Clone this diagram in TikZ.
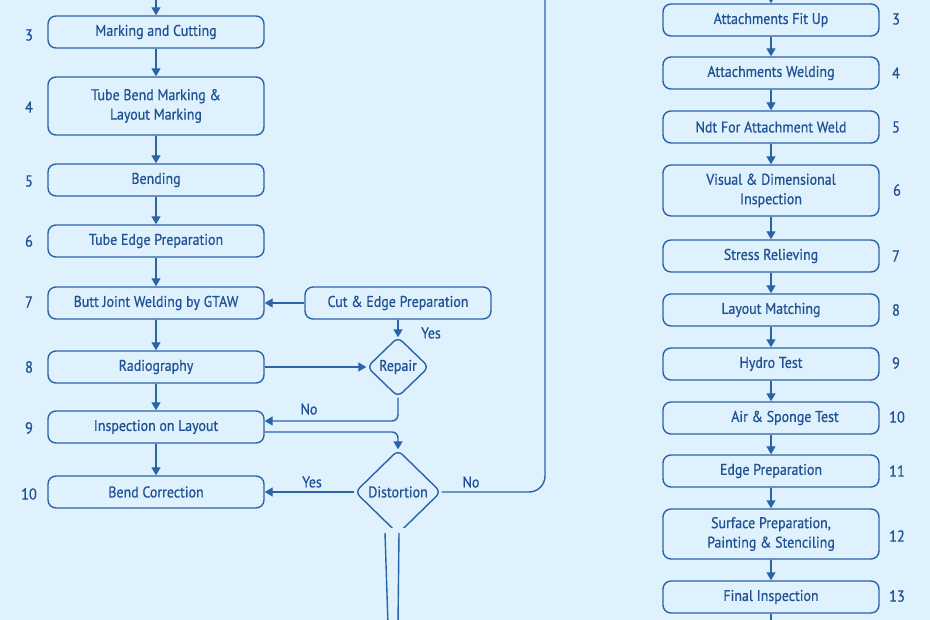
\documentclass[tikz,border=0pt]{standalone}
\usepackage{fontspec}
\setmainfont[FakeStretch=0.9,FakeBold=0.6]{PT Sans}
\usetikzlibrary{arrows.meta,shapes.geometric}
\definecolor{bgc}{HTML}{DFF1FC}
\definecolor{lnc}{HTML}{2B63A7}
\definecolor{txc}{HTML}{1F5294}
\begin{document}
\begin{tikzpicture}[x=1pt,y=-1pt,
  box/.style={draw=lnc,line width=1.4pt,rounded corners=8pt,minimum width=216pt,minimum height=32pt,inner sep=0pt,text=txc,font=\fontsize{15.5}{19.5}\selectfont,align=center},
  dia/.style={diamond,draw=lnc,line width=1.4pt,rounded corners=6pt,inner sep=0pt,text=txc,font=\fontsize{15.5}{19}\selectfont},
  num/.style={text=txc,font=\fontsize{16}{18}\selectfont},
  lbl/.style={text=txc,font=\fontsize{15.5}{18}\selectfont},
  arr/.style={draw=lnc,line width=1.4pt,-{Triangle[length=8pt,width=9pt]}},
  ln/.style={draw=lnc,line width=1.4pt}]
\fill[bgc] (0,0) rectangle (930,620);
\useasboundingbox (0,0) rectangle (930,620);
\clip (0,0) rectangle (930,620);
% left column
\node[box] (l3) at (156,32) {Marking and Cutting};
\node[box,minimum height=58pt] (l4) at (156,106) {Tube Bend Marking \&\\Layout Marking};
\node[box] (l5) at (156,180) {Bending};
\node[box] (l6) at (156,241) {Tube Edge Preparation};
\node[box] (l7) at (156,303) {Butt Joint Welding by GTAW};
\node[box] (l8) at (156,367) {Radiography};
\node[box] (l9) at (156,427) {Inspection on Layout};
\node[box] (l10) at (156,492) {Bend Correction};
\node[box,minimum width=186pt] (cut) at (398,303) {Cut \& Edge Preparation};
\node[dia,minimum width=62pt,minimum height=60pt] (rep) at (398,367) {Repair};
\node[dia,minimum width=86pt,minimum height=84pt] (dis) at (398,492) {Distortion};
\node[num] (n3) at (29,35) {3};
\node[num] (n4) at (29,107) {4};
\node[num] (n5) at (29,181) {5};
\node[num] (n6) at (29,241) {6};
\node[num] (n7) at (29,302) {7};
\node[num] (n8) at (29,367) {8};
\node[num] (n9) at (29,428) {9};
\node[num] (n10) at (29,494) {10};
% left connectors
\coordinate (ltop) at (156,-10);
\draw[arr] (ltop) -- (l3);
\draw[arr] (l3) -- (l4);
\draw[arr] (l4) -- (l5);
\draw[arr] (l5) -- (l6);
\draw[arr] (l6) -- (l7);
\draw[arr] (l7) -- (l8);
\draw[arr] (l8) -- (l9);
\draw[arr] (l9) -- (l10);
\draw[arr] (cut) -- (l7);
\draw[arr,shorten >=-1pt] (cut) -- (rep);
\draw[arr] (l8) -- (rep);
\draw[arr,rounded corners=6pt] (rep.south) |- ([yshift=6pt]l9.east);
\draw[arr,rounded corners=6pt] ([yshift=-5pt]l9.east) -| (dis.north);
\draw[arr] (dis) -- (l10);
\coordinate (rtop) at (545,-10);
\draw[ln,rounded corners=16pt] (dis.east) -| (rtop);
\node[lbl] (y1) at (431,333) {Yes};
\node[lbl] (no1) at (309,409) {No};
\node[lbl] (y2) at (312,482) {Yes};
\node[lbl] (no2) at (471,482) {No};
% broken bottom of Distortion
\fill[bgc] (388,527.5) rectangle (408,540);
\coordinate (b1a) at (385,533);
\coordinate (b1b) at (388,625);
\coordinate (b2a) at (399,533);
\coordinate (b2b) at (398,625);
\draw[ln] (b1a) -- (b1b);
\draw[ln] (b2a) -- (b2b);
% right column
\node[box] (r3) at (771,20) {Attachments Fit Up};
\node[box] (r4) at (771,73) {Attachments Welding};
\node[box] (r5) at (771,127) {Ndt For Attachment Weld};
\node[box,minimum height=51pt] (r6) at (771,190.5) {Visual \& Dimensional\\Inspection};
\node[box] (r7) at (771,256) {Stress Relieving};
\node[box] (r8) at (771,310) {Layout Matching};
\node[box] (r9) at (771,364) {Hydro Test};
\node[box] (r10) at (771,418) {\hspace*{28pt}Air \& Sponge Test};
\node[box] (r11) at (771,471) {Edge Preparation};
\node[box,minimum height=50pt] (r12) at (771,534) {Surface Preparation,\\Painting \& Stenciling};
\node[box] (r13) at (771,597) {Final Inspection};
\node[num] (m3) at (896,19) {3};
\node[num] (m4) at (896,73) {4};
\node[num] (m5) at (896,127) {5};
\node[num] (m6) at (897,190) {6};
\node[num] (m7) at (896,256) {7};
\node[num] (m8) at (896,310) {8};
\node[num] (m9) at (896,363) {9};
\node[num] (m10) at (897,417) {10};
\node[num] (m11) at (897,471) {11};
\node[num] (m12) at (897,536) {12};
\node[num] (m13) at (897,596) {13};
\coordinate (rtop2) at (771,-12);
\coordinate (rbot) at (771,630);
\draw[arr] (rtop2) -- (r3);
\draw[arr] (r3) -- (r4);
\draw[arr] (r4) -- (r5);
\draw[arr] (r5) -- (r6);
\draw[arr] (r6) -- (r7);
\draw[arr] (r7) -- (r8);
\draw[arr] (r8) -- (r9);
\draw[arr] (r9) -- (r10);
\draw[arr] (r10) -- (r11);
\draw[arr] (r11) -- (r12);
\draw[arr] (r12) -- (r13);
\draw[ln] (r13) -- (rbot);
\end{tikzpicture}
\end{document}
